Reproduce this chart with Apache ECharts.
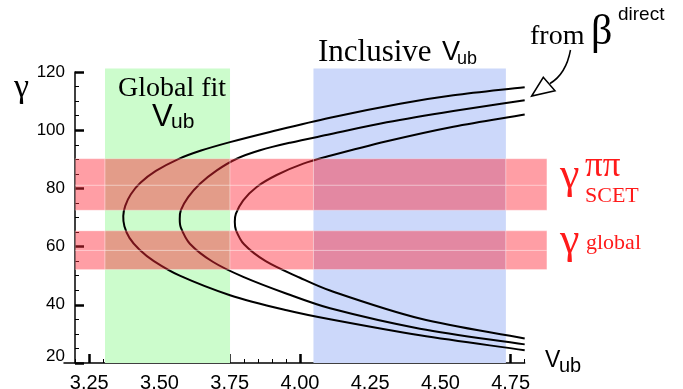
<!DOCTYPE html>
<html><head><meta charset="utf-8">
<script src="https://cdn.jsdelivr.net/npm/echarts@6/dist/echarts.min.js"></script>
<style>html,body{margin:0;padding:0;background:#fff}#c{width:683px;height:389px}</style>
</head><body><div id="c"></div>
<script>
// ---- tick labels ----
const xTickValues = [3.25, 3.5, 3.75, 4.0, 4.25, 4.5, 4.75];
const xTickLabels = ['3.25', '3.50', '3.75', '4.00', '4.25', '4.50', '4.75'];
const yTickValues = [20, 40, 60, 80, 100, 120];

// ---- vertical bands (Vub ranges) ----
const globalFitVub = [3.306, 3.751];
const inclusiveVub = [4.048, 4.733];
const vBandGamma = [20, 121.2];

// ---- horizontal bands (gamma ranges): [low, central, high] ----
const gammaSCET = [72.5, 81.1, 90.2];
const gammaGlobal = [52.1, 58.7, 65.4];
const hBandVub = [3.2, 4.879];

// ---- curves from beta^direct: [Vub, gamma] ----
const curveLeft = [[4.80,114.8],[4.546,112.0],[4.356,109.1],[4.107,104.3],[3.893,99.4],[3.751,95.9],[3.648,93.0],[3.565,90.0],[3.487,86.0],[3.433,82.0],[3.398,78.0],[3.378,74.0],[3.371,70.5],[3.375,67.0],[3.393,63.0],[3.428,59.0],[3.480,55.0],[3.572,50.0],[3.751,43.3],[3.953,38.1],[4.107,35.0],[4.427,29.5],[4.80,24.4]];
const curveMiddle = [[4.80,110.3],[4.546,106.6],[4.309,102.7],[4.107,98.6],[3.965,95.7],[3.858,93.1],[3.775,90.2],[3.704,86.2],[3.644,81.6],[3.602,77.0],[3.576,72.5],[3.572,69.5],[3.576,66.5],[3.608,61.0],[3.691,54.7],[3.798,49.6],[3.953,43.8],[4.107,38.8],[4.427,31.8],[4.80,26.4]];
const curveRight = [[4.80,105.4],[4.546,101.2],[4.309,96.2],[4.107,91.2],[4.012,88.5],[3.917,84.6],[3.846,80.5],[3.798,75.9],[3.772,71.3],[3.768,68.5],[3.772,65.7],[3.801,60.8],[3.878,55.0],[4.000,49.3],[4.107,44.9],[4.427,35.3],[4.80,28.4]];

// minor tick positions every 0.05
const minorTicks = [];
for (let i = 0; i <= 32; i++) minorTicks.push(+(3.2 + i * 0.05).toFixed(2));

const vBandColors = ['#ccfccc', '#ccd8fa'];
const vBandData = [
  [globalFitVub[0], globalFitVub[1], vBandGamma[0], vBandGamma[1], 0],
  [inclusiveVub[0], inclusiveVub[1], vBandGamma[0], vBandGamma[1], 1]
];
const xSplits = [hBandVub[0], globalFitVub[0], globalFitVub[1], inclusiveVub[0], inclusiveVub[1], hBandVub[1]];
const hBandData = [];
[gammaSCET, gammaGlobal].forEach(b => {
  for (let k = 0; k < 2; k++) {
    for (let i = 0; i < xSplits.length - 1; i++) {
      hBandData.push([xSplits[i], xSplits[i + 1], b[k], b[k + 1]]);
    }
  }
});

function rectItem(api, fill, stroke) {
  const p0 = api.coord([api.value(0), api.value(3)]);
  const p1 = api.coord([api.value(1), api.value(2)]);
  return {
    type: 'rect',
    shape: { x: p0[0], y: p0[1], width: p1[0] - p0[0], height: p1[1] - p0[1] },
    style: { fill: fill, stroke: stroke, lineWidth: stroke ? 1 : 0 }
  };
}

// smooth spline (chord-length Catmull-Rom) through data points mapped by the axes
function curveSeries(name, pts) {
  return {
    type: 'custom', name: name, xAxisIndex: 0, yAxisIndex: 0, z: 2, silent: true,
    encode: { x: 0, y: 1 }, data: pts,
    renderItem: (params, api) => {
      if (params.dataIndex !== 0) return null;
      const P = pts.map(p => api.coord(p));
      const n = P.length;
      const d = (a, b) => Math.hypot(b[0] - a[0], b[1] - a[1]);
      let path = 'M' + P[0][0] + ' ' + P[0][1];
      for (let i = 0; i < n - 1; i++) {
        const p0 = P[Math.max(i - 1, 0)], p1 = P[i], p2 = P[i + 1], p3 = P[Math.min(i + 2, n - 1)];
        const d01 = d(p0, p1), d12 = d(p1, p2), d23 = d(p2, p3);
        const s1 = d12 / (3 * ((d01 + d12) || 1));
        const s2 = d12 / (3 * ((d12 + d23) || 1));
        const c1 = [p1[0] + (p2[0] - p0[0]) * s1, p1[1] + (p2[1] - p0[1]) * s1];
        const c2 = [p2[0] - (p3[0] - p1[0]) * s2, p2[1] - (p3[1] - p1[1]) * s2];
        path += ' C' + c1[0] + ' ' + c1[1] + ' ' + c2[0] + ' ' + c2[1] + ' ' + p2[0] + ' ' + p2[1];
      }
      return { type: 'path', shape: { pathData: path }, style: { fill: null, stroke: '#000', lineWidth: 2 } };
    }
  };
}

const serif = '"Liberation Serif", "DejaVu Serif", serif';
const sans = '"Liberation Sans", Arial, sans-serif';
const red = '#ff1a1a';

function txt(x, y, text, size, family, color) {
  return { type: 'text', x: x, y: y, z: 100,
    style: { text: text, font: size + 'px ' + family, fill: color || '#000', align: 'left', verticalAlign: 'middle' } };
}

const chart = echarts.init(document.getElementById('c'), null, { renderer: 'canvas' });
const option = {
  animation: false,
  backgroundColor: '#fff',
  grid: [
    { left: 64, top: 72, width: 460.7, height: 291, outerBoundsMode: 'none', containLabel: false },
    { left: 64, top: 66.18, width: 488.8, height: 296.8, outerBoundsMode: 'none', containLabel: false }
  ],
  xAxis: [
    { gridIndex: 0, type: 'value', min: 3.16, max: 4.8, position: 'bottom',
      axisLine: { show: true, onZero: false, lineStyle: { color: '#000', width: 1.5 } },
      axisTick: { show: true, inside: true, length: 9, customValues: xTickValues, lineStyle: { color: '#000', width: 2.5 } },
      axisLabel: { show: true, customValues: xTickValues, margin: 10, color: '#000', fontSize: 20, fontFamily: sans,
        formatter: v => { const i = xTickValues.findIndex(t => Math.abs(t - v) < 1e-6); return i >= 0 ? xTickLabels[i] : ''; } },
      splitLine: { show: false } },
    { gridIndex: 0, type: 'value', min: 3.16, max: 4.8, position: 'bottom',
      axisLine: { show: false, onZero: false },
      axisTick: { show: true, inside: true, length: 4, customValues: minorTicks, lineStyle: { color: '#000', width: 1 } },
      axisLabel: { show: false }, splitLine: { show: false } },
    { gridIndex: 1, type: 'value', min: 3.16, max: 4.9, show: false }
  ],
  yAxis: [
    { gridIndex: 0, type: 'value', min: 20, max: 120, interval: 20, offset: -11, position: 'left',
      axisLine: { show: true, onZero: false, lineStyle: { color: '#000', width: 1.5 } },
      axisTick: { show: true, inside: true, length: 9, lineStyle: { color: '#000', width: 2.5 } },
      minorTick: { show: true, splitNumber: 4, length: 4, lineStyle: { color: '#000', width: 1 } },
      axisLabel: { show: true, margin: 10, color: '#000', fontSize: 17, fontFamily: sans,
        formatter: v => (v === yTickValues[0] ? '{lo|' + v + '}' : String(v)),
        rich: { lo: { fontSize: 17, fontFamily: sans, color: '#000', padding: [0, 0, 13, 0] } } },
      splitLine: { show: false }, minorSplitLine: { show: false } },
    { gridIndex: 1, type: 'value', min: 20, max: 122, show: false }
  ],
  series: [
    { type: 'custom', name: 'Vub bands', xAxisIndex: 2, yAxisIndex: 1, z: 1, silent: true,
      encode: { x: [0, 1], y: [2, 3] }, data: vBandData,
      renderItem: (params, api) => rectItem(api, vBandColors[api.value(4)], null) },
    curveSeries('curve1', curveLeft),
    curveSeries('curve2', curveMiddle),
    curveSeries('curve3', curveRight),
    { type: 'custom', name: 'gamma bands', xAxisIndex: 2, yAxisIndex: 1, z: 3, silent: true,
      encode: { x: [0, 1], y: [2, 3] }, data: hBandData,
      renderItem: (params, api) => rectItem(api, 'rgba(255,40,55,0.45)', 'rgba(255,255,255,0.3)') }
  ],
  graphic: [
    txt(14, 88, 'γ', 34, serif),
    txt(118, 88.6, 'Global fit', 28, serif),
    txt(152, 117, 'V', 31, sans),
    txt(171, 122, 'ub', 21, sans),
    txt(318, 52.5, 'Inclusive', 31, serif),
    txt(442, 53, 'V', 27, sans),
    txt(457, 58.6, 'ub', 18, sans),
    txt(530, 36.6, 'from', 28, serif),
    txt(591, 33, 'β', 42, serif),
    txt(618, 14.3, 'direct', 19, sans),
    txt(560, 176, 'γ', 44, serif, red),
    txt(585, 166.5, 'ππ', 35, serif, red),
    txt(585, 196.4, 'SCET', 22, serif, red),
    txt(560, 241, 'γ', 44, serif, red),
    txt(586, 243.4, 'global', 22, serif, red),
    txt(545, 360.5, 'V', 23, sans),
    txt(559, 366.5, 'ub', 20, sans),
    { type: 'bezierCurve', z: 100, shape: { x1: 570.5, y1: 50, cpx1: 566, cpy1: 74, x2: 550, y2: 83.5 },
      style: { stroke: '#000', lineWidth: 1.5, fill: null } },
    { type: 'polygon', z: 101, shape: { points: [[531.7, 96], [543.3, 77.3], [555, 90.7]] },
      style: { fill: '#fff', stroke: '#000', lineWidth: 1.5 } }
  ]
};
chart.setOption(option);
</script></body></html>
